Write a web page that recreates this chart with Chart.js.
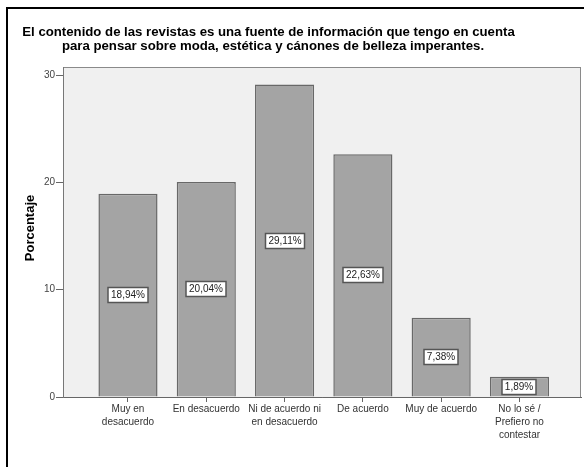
<!DOCTYPE html>
<html>
<head>
<meta charset="utf-8">
<script src="https://cdn.jsdelivr.net/npm/chart.js@4/dist/chart.umd.min.js"></script>
<style>
  html, body { margin: 0; padding: 0; background: #ffffff; }
  #wrap { width: 584px; height: 467px; position: relative; }
</style>
</head>
<body>
<div id="wrap"><canvas id="c" width="584" height="467"></canvas></div>
<script>
// Response categories (multi-line axis labels)
const categories = [
  ["Muy en", "desacuerdo"],
  ["En desacuerdo"],
  ["Ni de acuerdo ni", "en desacuerdo"],
  ["De acuerdo"],
  ["Muy de acuerdo"],
  ["No lo sé /", "Prefiero no", "contestar"]
];
// Percentage of respondents per category
const percentages = [18.94, 20.04, 29.11, 22.63, 7.38, 1.89];
// Y axis ticks
const yTicks = [0, 10, 20, 30];
// Title lines and axis title
const titleLines = [
  "El contenido de las revistas es una fuente de información que tengo en cuenta",
  "para pensar sobre moda, estética y cánones de belleza imperantes."
];
const yAxisTitle = "Porcentaje";

const FONT = "'Liberation Sans', Arial, sans-serif";

const formatPct = v => v.toFixed(2).replace('.', ',') + '%';

// Frame, plot background, title and y-axis title
const decorPlugin = {
  id: 'decor',
  beforeDraw(chart) {
    const { ctx, chartArea: a } = chart;
    ctx.save();
    ctx.fillStyle = '#ffffff';
    ctx.fillRect(0, 0, chart.width, chart.height);
    // outer frame
    ctx.strokeStyle = '#000000';
    ctx.lineWidth = 2;
    ctx.strokeRect(7, 8, chart.width + 20, chart.height + 20);
    // plot background
    ctx.fillStyle = '#f0f0f0';
    ctx.fillRect(a.left, a.top, a.right - a.left, a.bottom - a.top);
    ctx.strokeStyle = '#8a8a8a';
    ctx.lineWidth = 1;
    ctx.strokeRect(a.left + 0.5, a.top + 0.5, a.right - a.left - 1, a.bottom - a.top);
    // title
    ctx.fillStyle = '#000000';
    ctx.font = "bold 13.2px " + FONT;
    ctx.textAlign = 'center';
    ctx.textBaseline = 'middle';
    ctx.fillText(titleLines[0], 268.5, 32);
    ctx.fillText(titleLines[1], 273, 46);
    // y axis title
    ctx.translate(30, (a.top + a.bottom) / 2 - 4);
    ctx.rotate(-Math.PI / 2);
    ctx.font = "bold 13px " + FONT;
    ctx.fillText(yAxisTitle, 0, 0);
    ctx.restore();
  }
};

// Value boxes at the middle of each bar
const valueBoxPlugin = {
  id: 'valueBoxes',
  afterDatasetsDraw(chart) {
    const { ctx } = chart;
    const meta = chart.getDatasetMeta(0);
    ctx.save();
    ctx.font = "10px " + FONT;
    ctx.textAlign = 'center';
    ctx.textBaseline = 'middle';
    meta.data.forEach((bar, i) => {
      const txt = formatPct(percentages[i]);
      const cy = Math.round((bar.y + bar.base) / 2);
      const cx = Math.round(bar.x);
      const w = Math.round(ctx.measureText(txt).width) + 6;
      const h = 15;
      ctx.fillStyle = '#ffffff';
      ctx.fillRect(cx - w / 2, cy - h / 2, w, h);
      ctx.strokeStyle = '#555555';
      ctx.lineWidth = 1.5;
      ctx.strokeRect(cx - w / 2, cy - h / 2, w, h);
      ctx.fillStyle = '#222222';
      ctx.fillText(txt, cx, cy + 0.5);
    });
    ctx.restore();
  }
};

new Chart(document.getElementById('c'), {
  type: 'bar',
  data: {
    datasets: [{
      data: percentages.map((v, i) => ({ x: i, y: v })),
      backgroundColor: '#a4a4a4',
      borderColor: '#686868',
      borderWidth: 1.5,
      borderSkipped: 'bottom',
      categoryPercentage: 1,
      barPercentage: 0.755
    }]
  },
  options: {
    responsive: false,
    animation: false,
    devicePixelRatio: 1,
    layout: { padding: { left: 0, top: 67, right: 3, bottom: 0 } },
    plugins: {
      legend: { display: false },
      tooltip: { enabled: false },
      title: { display: false }
    },
    scales: {
      x: {
        type: 'linear',
        offset: false,
        min: -0.83,
        max: 5.786,
        afterBuildTicks(scale) {
          scale.ticks = categories.map((_, i) => ({ value: i }));
        },
        afterFit(scale) { scale.height = 70; },
        ticks: {
          autoSkip: false,
          maxRotation: 0,
          padding: 1,
          color: '#333333',
          font: { family: FONT, size: 10, lineHeight: 1.27 },
          callback: v => categories[v]
        },
        grid: { offset: false, drawOnChartArea: false, drawTicks: true, tickLength: 5, color: '#666666' },
        border: { display: true, color: '#666666', width: 1 }
      },
      y: {
        min: 0,
        max: 30.75,
        afterBuildTicks(scale) {
          scale.ticks = yTicks.map(v => ({ value: v }));
        },
        afterFit(scale) { scale.width = 63; },
        ticks: {
          padding: 1,
          color: '#444444',
          font: { family: FONT, size: 10 }
        },
        grid: { drawOnChartArea: false, drawTicks: true, tickLength: 7, color: '#666666' },
        border: { display: true, color: '#777777', width: 1 }
      }
    }
  },
  plugins: [decorPlugin, valueBoxPlugin]
});
</script>
</body>
</html>
